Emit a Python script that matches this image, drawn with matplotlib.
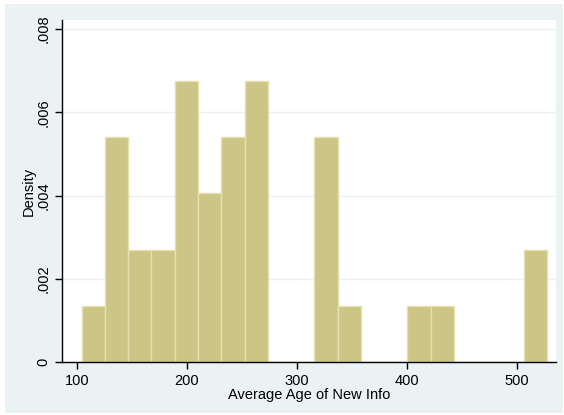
import numpy as np
import matplotlib.pyplot as plt
from matplotlib.patches import Rectangle

plt.rcParams['font.family'] = ['Liberation Sans', 'DejaVu Sans']

# Histogram of average age of new info: 20 bins, counts per bin (N = 35)
bin_start = 104.5
bin_width = 21.15
counts = [1, 4, 2, 2, 5, 3, 4, 5, 0, 0, 4, 1, 0, 0, 1, 1, 0, 0, 0, 2]
xticks = [100, 200, 300, 400, 500]
yticks = [0, 0.002, 0.004, 0.006, 0.008]
ylabels = ['0', '.002', '.004', '.006', '.008']

edges = bin_start + bin_width * np.arange(len(counts) + 1)
centers = (edges[:-1] + edges[1:]) / 2

bg = '#EAF2F3'
fig = plt.figure(figsize=(5.64, 4.15), dpi=100)
fig.patch.set_facecolor('white')
fig.patches.append(Rectangle((5 / 564, 2 / 415), 558 / 564, 409 / 415,
                             transform=fig.transFigure, facecolor=bg,
                             edgecolor='none', zorder=-10))

ax = fig.add_axes([62 / 564, 1 - 362 / 415, 494 / 564, 342 / 415])
ax.set_facecolor('white')
ax.hist(centers, bins=edges, weights=counts, density=True,
        color='#CCC585', edgecolor='#E6E0AE', linewidth=1.0, zorder=2)

ax.set_xlim(86.6, 535.7)
ax.set_ylim(0, 0.00822)
ax.set_xticks(xticks)
ax.set_yticks(yticks)
ax.set_yticklabels(ylabels, rotation=90, va='center')
ax.tick_params(axis='both', direction='out', length=5, width=1,
               labelsize=10.5, color='black', labelcolor='black')
ax.grid(axis='y', color=bg, linewidth=1, zorder=1)
ax.set_axisbelow(True)

for s in ['top', 'right']:
    ax.spines[s].set_visible(False)
for s in ['left', 'bottom']:
    ax.spines[s].set_color('black')
    ax.spines[s].set_linewidth(1)

ax.set_xlabel('Average Age of New Info', fontsize=10.5, labelpad=0)
ax.set_ylabel('Density', fontsize=10.5, labelpad=0)

fig.savefig('out.png', dpi=100)
